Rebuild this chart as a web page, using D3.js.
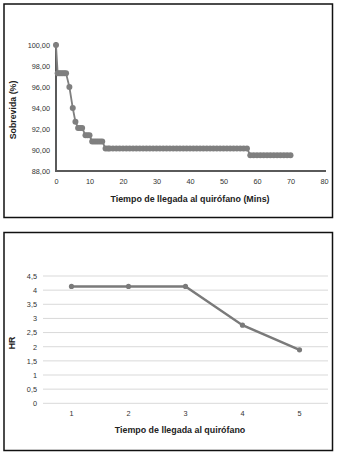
<!DOCTYPE html>
<html><head><meta charset="utf-8">
<script src="https://cdn.jsdelivr.net/npm/d3@7/dist/d3.min.js"></script>
<style>
body{margin:0;background:#fff;}
svg{display:block;font-family:"Liberation Sans",Arial,sans-serif;}
</style></head>
<body><svg id="c" width="338" height="457"></svg>
<script>
// ---- Chart 1: survival curve ----
const survTimes = [0, 0.5, 1, 1.5, 2, 2.5, 3, 4, 5, 5.8, 6.6, 7.2, 7.8, 8.8, 9.4, 10,
  10.8, 11.4, 12, 12.6, 13.2, 13.8,
  14.8, 15.5, 16, 17, 18, 19, 20, 21, 22, 23, 24, 25, 26, 27, 28, 29, 30, 31, 32, 33, 34, 35, 36,
  37, 38, 39, 40, 41, 42, 43, 44, 45, 46, 47, 48, 49, 50, 51, 52, 53, 54, 55, 56, 57,
  58, 59, 60, 61, 62, 63, 64, 65, 66, 67, 68, 69, 70];
const survValues = [100, 97.3, 97.3, 97.3, 97.3, 97.3, 97.3, 96.0, 94.0, 92.7, 92.1, 92.1, 92.1, 91.4, 91.4, 91.4,
  90.8, 90.8, 90.8, 90.8, 90.8, 90.8,
  90.15, 90.15, 90.15, 90.15, 90.15, 90.15, 90.15, 90.15, 90.15, 90.15, 90.15, 90.15, 90.15, 90.15, 90.15, 90.15, 90.15, 90.15, 90.15, 90.15, 90.15, 90.15, 90.15,
  90.15, 90.15, 90.15, 90.15, 90.15, 90.15, 90.15, 90.15, 90.15, 90.15, 90.15, 90.15, 90.15, 90.15, 90.15, 90.15, 90.15, 90.15, 90.15, 90.15, 90.15,
  89.5, 89.5, 89.5, 89.5, 89.5, 89.5, 89.5, 89.5, 89.5, 89.5, 89.5, 89.5, 89.5];
const survYTicks = [88, 90, 92, 94, 96, 98, 100];
const survXTicks = [0, 10, 20, 30, 40, 50, 60, 70, 80];

// ---- Chart 2: HR ----
const hrCategories = ["1", "2", "3", "4", "5"];
const hrValues = [4.13, 4.13, 4.13, 2.76, 1.89];
const hrYTicks = [0, 0.5, 1, 1.5, 2, 2.5, 3, 3.5, 4, 4.5];

const svg = d3.select("#c");
const fmt2 = v => d3.format(".2f")(v).replace(".", ",");
const fmtHR = v => String(v).replace(".", ",");
const FONT = "Liberation Sans, Arial, sans-serif";

// frames
svg.append("rect").attr("x", 4).attr("y", 4).attr("width", 328.5).attr("height", 213.5)
  .attr("fill", "none").attr("stroke", "#111").attr("stroke-width", 1.5);
svg.append("rect").attr("x", 4).attr("y", 232.5).attr("width", 328.5).attr("height", 218)
  .attr("fill", "none").attr("stroke", "#111").attr("stroke-width", 1.5);

// ---- chart 1 ----
const x1 = d3.scaleLinear().domain([0, 80]).range([56, 324]);
const y1 = d3.scaleLinear().domain([88, 100]).range([171, 45]);
const grey = "#7f7f7f";

const ax1 = svg.append("g").attr("transform", "translate(0,171)")
  .call(d3.axisBottom(x1).tickValues(survXTicks).tickSize(0).tickSizeOuter(0).tickPadding(8));
ax1.select(".domain").attr("stroke", "#5a5a5a").attr("stroke-width", 2).attr("d", "M55,0H326");
ax1.selectAll("text").attr("font-size", 7.3).attr("fill", "#333").attr("font-family", FONT);

const ay1 = svg.append("g").attr("transform", "translate(56,0)")
  .call(d3.axisLeft(y1).tickValues(survYTicks).tickFormat(fmt2).tickSize(0).tickSizeOuter(0).tickPadding(6));
ay1.select(".domain").attr("stroke", "#5a5a5a").attr("stroke-width", 2).attr("d", "M0,42V172");
ay1.selectAll("text").attr("font-size", 7.3).attr("fill", "#333").attr("font-family", FONT);

const pts1 = survTimes.map((t, i) => [t, survValues[i]]);
svg.append("path").datum(pts1)
  .attr("fill", "none").attr("stroke", grey).attr("stroke-width", 1.8)
  .attr("d", d3.line().x(d => x1(d[0])).y(d => y1(d[1])));
svg.append("g").selectAll("circle").data(pts1).join("circle")
  .attr("cx", d => x1(d[0])).attr("cy", d => y1(d[1])).attr("r", 3).attr("fill", grey);

svg.append("text").attr("x", 190).attr("y", 202).attr("text-anchor", "middle")
  .attr("font-size", 8.9).attr("font-weight", "bold").attr("fill", "#222")
  .text("Tiempo de llegada al quirófano (Mins)");
svg.append("text").attr("transform", "translate(16,110) rotate(-90)").attr("text-anchor", "middle")
  .attr("font-size", 8.8).attr("font-weight", "bold").attr("fill", "#222")
  .text("Sobrevida (%)");

// ---- chart 2 ----
const x2 = d3.scaleBand().domain(hrCategories).range([43, 328]);
const y2 = d3.scaleLinear().domain([0, 4.5]).range([403.3, 276]);

svg.append("g").selectAll("line").data(hrYTicks).join("line")
  .attr("x1", 43).attr("x2", 328).attr("y1", d => y2(d)).attr("y2", d => y2(d))
  .attr("stroke", "#d9d9d9").attr("stroke-width", 1);

const ay2 = svg.append("g").attr("transform", "translate(43,0)")
  .call(d3.axisLeft(y2).tickValues(hrYTicks).tickFormat(fmtHR).tickSize(0).tickPadding(6));
ay2.select(".domain").remove();
ay2.selectAll("text").attr("font-size", 7.3).attr("fill", "#333").attr("font-family", FONT);

const ax2 = svg.append("g").attr("transform", "translate(0,403.3)")
  .call(d3.axisBottom(x2).tickSize(0).tickPadding(8));
ax2.select(".domain").remove();
ax2.selectAll("text").attr("font-size", 7.3).attr("fill", "#333").attr("font-family", FONT);

const pts2 = hrCategories.map((c, i) => [c, hrValues[i]]);
const cx2 = c => x2(c) + x2.bandwidth() / 2;
svg.append("path").datum(pts2)
  .attr("fill", "none").attr("stroke", "#7a7a7a").attr("stroke-width", 2.4)
  .attr("d", d3.line().x(d => cx2(d[0])).y(d => y2(d[1])));
svg.append("g").selectAll("circle").data(pts2).join("circle")
  .attr("cx", d => cx2(d[0])).attr("cy", d => y2(d[1])).attr("r", 2.6).attr("fill", "#7a7a7a");

svg.append("text").attr("x", 180).attr("y", 432.5).attr("text-anchor", "middle")
  .attr("font-size", 8.9).attr("font-weight", "bold").attr("fill", "#222")
  .text("Tiempo de llegada al quirófano");
svg.append("text").attr("transform", "translate(14.5,343) rotate(-90)").attr("text-anchor", "middle")
  .attr("font-size", 8.8).attr("font-weight", "bold").attr("fill", "#222")
  .text("HR");
</script></body></html>
